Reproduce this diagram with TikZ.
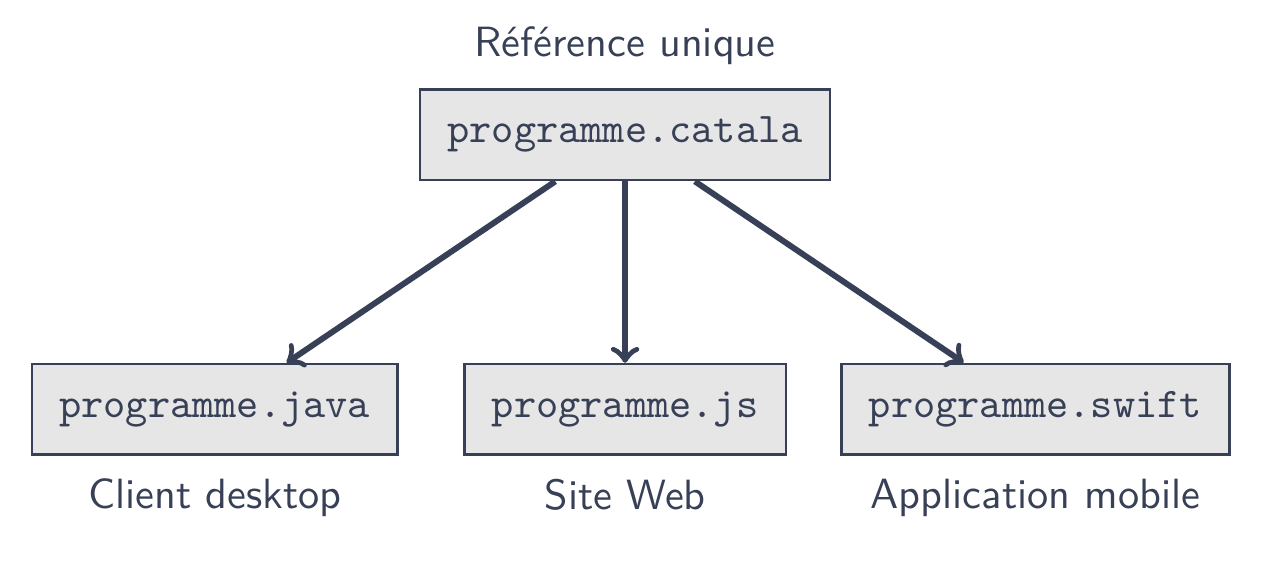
\documentclass[tikz,border=0pt]{standalone}
\usepackage{tikz}
\usepackage{xcolor}

\definecolor{ardoise}{HTML}{374056}
\definecolor{fondgris}{HTML}{E6E6E6}

\begin{document}
\begin{tikzpicture}[
    fichier/.style={draw=ardoise, fill=fondgris, line width=0.6pt, inner sep=6.5pt,
                    text=ardoise, font=\ttfamily},
    legende/.style={text=ardoise, font=\sffamily, label distance=2pt},
    fleche/.style={->, ardoise, line width=1.4pt}
]
                \useasboundingbox (-5.195,-3.624) rectangle (5.318,1.121);

                %% source
                \node[fichier, label={[legende]above:Référence unique}] (catala) at (0,0) {programme.catala};

                %% cibles
                \node[fichier, label={[legende]below:Client desktop}] (java) at (-3.41,-2.28) {programme.java};
                \node[fichier, label={[legende]below:Site Web}] (js) at (0,-2.28) {programme.js};
                \node[fichier, label={[legende]below:Application mobile}] (swift) at (3.41,-2.28) {programme.swift};

                %% fleches
                \draw[fleche] ([xshift=-16.5pt]catala.south) -- ([xshift=17pt]java.north);
                \draw[fleche] (catala.south) -- (js.north);
                \draw[fleche] ([xshift=16.5pt]catala.south) -- ([xshift=-17pt]swift.north);

\end{tikzpicture}
\end{document}
